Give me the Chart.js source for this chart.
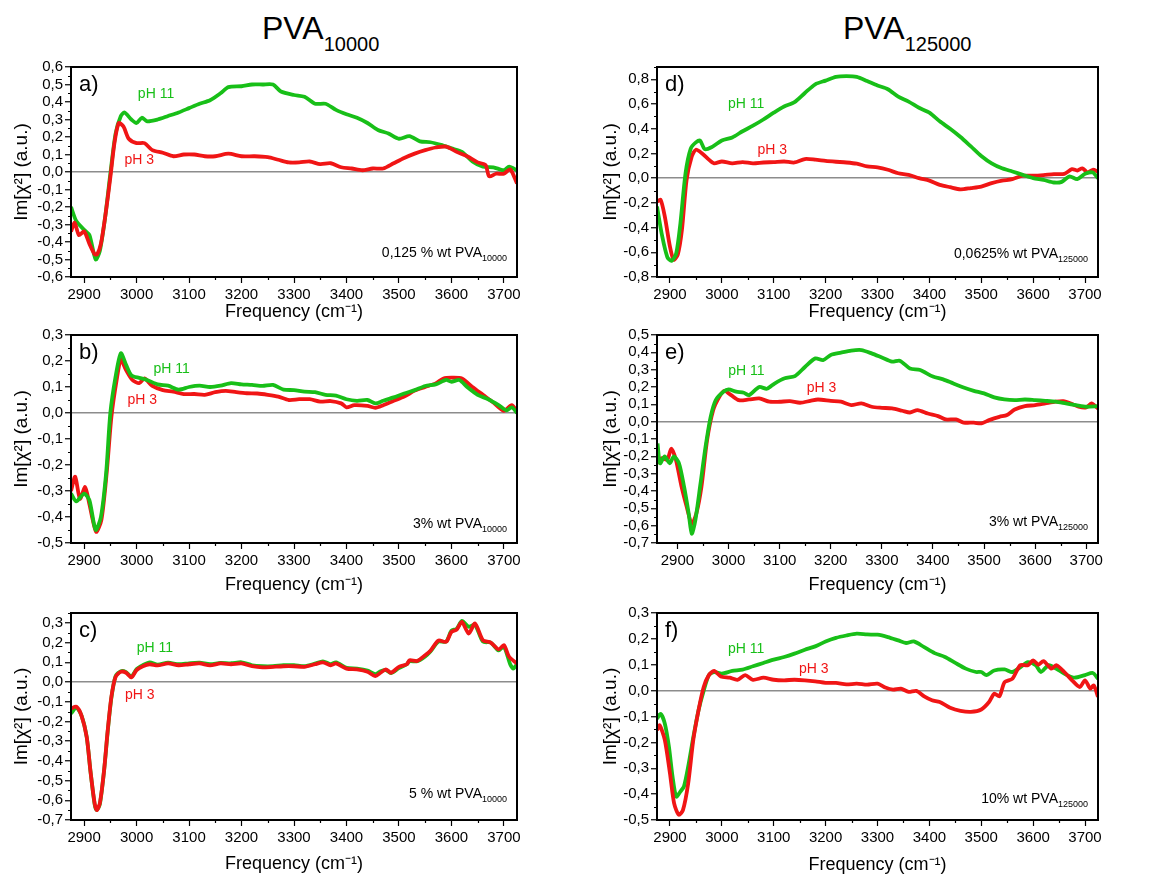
<!DOCTYPE html>
<html>
<head>
<meta charset="utf-8">
<script src="https://cdn.jsdelivr.net/npm/chart.js@4.4.1/dist/chart.umd.min.js"></script>
<style>
  body { margin: 0; background: #fff; width: 1165px; height: 875px; position: relative; overflow: hidden;
         font-family: 'Liberation Sans', Arial, sans-serif; }
  .title { position: absolute; top: 10px; font-size: 32px; color: #000; white-space: nowrap; }
  .title span { font-size: 20px; position: relative; top: 12px; }
</style>
</head>
<body>
<div class="title" style="left:262px">PVA<span>10000</span></div>
<div class="title" style="left:843px">PVA<span>125000</span></div>
<script>
const FONT = "'Liberation Sans', Arial, sans-serif";
Chart.defaults.font.family = FONT;
Chart.defaults.color = '#000';

const GREEN = '#18bf18';
const RED = '#f01515';

// ---- panel a: 0,125 % wt PVA10000 ----
const aPh11 = [[2875,-0.20],[2885,-0.28],[2900,-0.33],[2910,-0.36],[2922,-0.50],[2930,-0.45],[2940,-0.26],[2950,-0.01],
  [2960,0.22],[2970,0.32],[2977,0.34],[2990,0.30],[3000,0.28],[3010,0.31],[3020,0.29],[3040,0.30],[3060,0.32],[3080,0.34],
  [3100,0.365],[3120,0.39],[3140,0.41],[3160,0.45],[3175,0.485],[3200,0.49],[3220,0.50],[3240,0.50],[3260,0.50],[3275,0.46],
  [3300,0.44],[3320,0.43],[3340,0.39],[3360,0.39],[3380,0.355],[3400,0.33],[3420,0.31],[3440,0.28],[3460,0.24],[3480,0.22],
  [3500,0.19],[3520,0.205],[3540,0.175],[3560,0.17],[3580,0.155],[3600,0.135],[3620,0.115],[3640,0.06],[3660,0.03],
  [3680,0.027],[3700,0.01],[3710,0.03],[3725,0.01]];
const aPh3 = [[2875,-0.34],[2882,-0.29],[2890,-0.36],[2900,-0.34],[2910,-0.41],[2920,-0.47],[2925,-0.47],[2932,-0.41],
  [2940,-0.26],[2950,-0.03],[2958,0.17],[2966,0.28],[2975,0.26],[2985,0.19],[3000,0.165],[3015,0.165],[3030,0.125],
  [3050,0.11],[3070,0.09],[3090,0.10],[3110,0.10],[3130,0.09],[3150,0.09],[3175,0.105],[3200,0.09],[3225,0.09],[3250,0.085],
  [3270,0.07],[3290,0.055],[3310,0.055],[3330,0.06],[3350,0.045],[3370,0.05],[3390,0.027],[3410,0.02],[3430,0.01],
  [3450,0.02],[3470,0.02],[3490,0.05],[3510,0.08],[3530,0.105],[3550,0.125],[3570,0.14],[3590,0.145],[3610,0.115],
  [3630,0.09],[3650,0.055],[3665,0.04],[3672,-0.025],[3685,-0.01],[3700,-0.01],[3712,0.015],[3725,-0.065]];

// ---- panel b: 3% wt PVA10000 ----
const bPh11 = [[2875,-0.31],[2885,-0.34],[2900,-0.31],[2910,-0.335],[2922,-0.45],[2932,-0.40],[2942,-0.23],[2950,0.0],
  [2960,0.14],[2970,0.23],[2980,0.185],[2990,0.145],[3005,0.135],[3020,0.127],[3040,0.11],[3060,0.105],[3080,0.09],
  [3100,0.10],[3120,0.105],[3140,0.10],[3160,0.105],[3180,0.115],[3200,0.11],[3220,0.108],[3240,0.104],[3260,0.108],
  [3280,0.09],[3300,0.088],[3320,0.082],[3340,0.08],[3360,0.07],[3380,0.067],[3400,0.053],[3420,0.047],[3440,0.05],
  [3455,0.037],[3470,0.047],[3490,0.06],[3510,0.075],[3530,0.088],[3550,0.104],[3570,0.11],[3590,0.127],[3600,0.12],
  [3615,0.127],[3630,0.10],[3650,0.07],[3670,0.053],[3690,0.03],[3705,0.01],[3715,0.022],[3725,0.0]];
const bPh3 = [[2875,-0.30],[2883,-0.245],[2892,-0.33],[2902,-0.285],[2910,-0.35],[2923,-0.457],[2933,-0.41],[2943,-0.23],
  [2952,-0.015],[2962,0.127],[2970,0.205],[2980,0.165],[2992,0.127],[3005,0.115],[3015,0.133],[3030,0.104],[3050,0.088],
  [3070,0.082],[3090,0.073],[3110,0.073],[3130,0.07],[3150,0.08],[3170,0.085],[3190,0.08],[3210,0.076],[3230,0.075],
  [3250,0.07],[3270,0.063],[3290,0.05],[3310,0.053],[3330,0.053],[3350,0.044],[3370,0.046],[3390,0.037],[3400,0.022],
  [3415,0.03],[3440,0.027],[3455,0.02],[3470,0.03],[3490,0.047],[3510,0.063],[3530,0.086],[3550,0.10],[3570,0.114],
  [3585,0.133],[3600,0.136],[3620,0.133],[3640,0.10],[3660,0.07],[3680,0.04],[3700,0.008],[3715,0.03],[3725,0.005]];

// ---- panel c: 5 % wt PVA10000 ----
const cPh11 = [[2875,-0.16],[2885,-0.13],[2895,-0.17],[2905,-0.28],[2912,-0.45],[2920,-0.62],[2924,-0.65],[2930,-0.62],
  [2938,-0.45],[2945,-0.25],[2952,-0.08],[2960,0.03],[2970,0.055],[2980,0.05],[2990,0.027],[3000,0.065],[3012,0.085],
  [3025,0.10],[3040,0.088],[3060,0.098],[3080,0.09],[3100,0.095],[3120,0.098],[3140,0.09],[3160,0.097],[3180,0.095],
  [3200,0.10],[3220,0.085],[3240,0.08],[3260,0.08],[3280,0.085],[3300,0.085],[3320,0.08],[3340,0.093],[3355,0.105],
  [3370,0.09],[3380,0.10],[3400,0.072],[3420,0.068],[3440,0.058],[3455,0.04],[3465,0.055],[3475,0.06],[3485,0.045],
  [3500,0.07],[3515,0.09],[3520,0.105],[3535,0.105],[3550,0.13],[3560,0.155],[3575,0.205],[3590,0.205],[3600,0.26],
  [3610,0.27],[3620,0.31],[3633,0.28],[3645,0.29],[3660,0.205],[3675,0.2],[3690,0.16],[3700,0.18],[3712,0.09],
  [3718,0.068],[3725,0.09]];
const cPh3 = [[2875,-0.135],[2885,-0.125],[2895,-0.17],[2905,-0.28],[2912,-0.45],[2920,-0.615],[2924,-0.65],[2930,-0.615],
  [2938,-0.45],[2945,-0.245],[2952,-0.075],[2960,0.026],[2970,0.052],[2980,0.047],[2990,0.023],[3000,0.06],[3012,0.08],
  [3025,0.09],[3040,0.084],[3060,0.094],[3080,0.085],[3100,0.09],[3120,0.094],[3140,0.084],[3160,0.094],[3180,0.09],
  [3200,0.094],[3220,0.08],[3240,0.074],[3260,0.077],[3280,0.08],[3300,0.08],[3320,0.077],[3340,0.09],[3355,0.10],
  [3370,0.085],[3380,0.094],[3400,0.068],[3420,0.064],[3440,0.052],[3455,0.03],[3465,0.047],[3475,0.064],[3485,0.047],
  [3500,0.077],[3515,0.09],[3520,0.11],[3535,0.107],[3550,0.136],[3560,0.158],[3575,0.21],[3590,0.204],[3600,0.254],
  [3610,0.266],[3620,0.305],[3633,0.246],[3645,0.297],[3660,0.212],[3675,0.2],[3690,0.165],[3700,0.187],[3710,0.128],
  [3725,0.094]];

// ---- panel d: 0,0625% wt PVA125000 ----
const dPh11 = [[2875,-0.23],[2885,-0.47],[2895,-0.64],[2903,-0.67],[2912,-0.61],[2920,-0.37],[2930,0.04],[2940,0.24],
  [2950,0.29],[2958,0.305],[2967,0.235],[2980,0.25],[3000,0.305],[3020,0.33],[3040,0.38],[3060,0.425],[3080,0.475],
  [3100,0.53],[3120,0.58],[3140,0.615],[3160,0.69],[3180,0.76],[3200,0.79],[3220,0.82],[3240,0.826],[3260,0.82],
  [3280,0.786],[3300,0.75],[3320,0.72],[3340,0.66],[3360,0.62],[3380,0.57],[3400,0.53],[3420,0.46],[3440,0.40],
  [3460,0.333],[3480,0.257],[3500,0.18],[3520,0.12],[3540,0.08],[3560,0.054],[3580,0.027],[3600,0.0],[3620,-0.014],
  [3640,-0.035],[3655,-0.03],[3670,0.014],[3685,-0.008],[3700,0.035],[3715,0.046],[3725,0.0]];
const dPh3 = [[2875,-0.19],[2882,-0.176],[2890,-0.31],[2900,-0.555],[2907,-0.66],[2915,-0.62],[2923,-0.42],[2932,-0.014],
  [2942,0.176],[2950,0.23],[2962,0.20],[2975,0.15],[2985,0.12],[3000,0.135],[3020,0.12],[3040,0.13],[3060,0.12],
  [3080,0.127],[3100,0.13],[3120,0.135],[3140,0.127],[3160,0.155],[3180,0.15],[3200,0.14],[3220,0.133],[3240,0.127],
  [3260,0.117],[3280,0.095],[3300,0.087],[3320,0.068],[3340,0.04],[3360,0.027],[3380,0.0],[3400,-0.02],[3420,-0.054],
  [3440,-0.073],[3460,-0.09],[3480,-0.08],[3500,-0.068],[3520,-0.04],[3540,-0.02],[3560,-0.008],[3580,0.02],[3600,0.02],
  [3620,0.025],[3640,0.033],[3660,0.035],[3675,0.073],[3685,0.062],[3695,0.08],[3705,0.046],[3715,0.068],[3725,0.054]];

// ---- panel e: 3% wt PVA125000 ----
const ePh11 = [[2861,-0.126],[2866,-0.24],[2875,-0.20],[2885,-0.24],[2893,-0.20],[2903,-0.24],[2913,-0.375],[2922,-0.53],
  [2928,-0.646],[2935,-0.57],[2945,-0.36],[2955,-0.145],[2965,0.028],[2975,0.125],[2990,0.173],[3000,0.186],[3015,0.173],
  [3030,0.167],[3040,0.153],[3060,0.20],[3075,0.19],[3090,0.22],[3110,0.25],[3130,0.263],[3150,0.317],[3170,0.365],
  [3185,0.355],[3200,0.385],[3220,0.398],[3240,0.41],[3260,0.413],[3280,0.394],[3300,0.37],[3320,0.346],[3335,0.352],
  [3355,0.307],[3375,0.298],[3400,0.26],[3420,0.244],[3440,0.22],[3460,0.197],[3480,0.178],[3500,0.163],[3520,0.14],
  [3540,0.128],[3560,0.124],[3580,0.128],[3600,0.124],[3620,0.12],[3640,0.115],[3660,0.105],[3680,0.095],[3700,0.086],
  [3723,0.09]];
const ePh3 = [[2861,-0.24],[2870,-0.21],[2880,-0.22],[2888,-0.155],[2897,-0.22],[2908,-0.375],[2918,-0.49],[2928,-0.59],
  [2937,-0.53],[2947,-0.375],[2958,-0.107],[2970,0.067],[2982,0.144],[2992,0.178],[3005,0.153],[3020,0.124],[3040,0.128],
  [3060,0.134],[3080,0.115],[3100,0.115],[3120,0.118],[3140,0.109],[3160,0.12],[3175,0.128],[3200,0.12],[3220,0.115],
  [3240,0.096],[3260,0.105],[3280,0.086],[3300,0.08],[3320,0.076],[3340,0.063],[3355,0.053],[3370,0.067],[3390,0.047],
  [3410,0.032],[3425,0.013],[3445,0.013],[3460,-0.005],[3480,-0.006],[3495,-0.01],[3510,0.009],[3530,0.028],[3545,0.038],
  [3560,0.07],[3580,0.09],[3600,0.095],[3620,0.105],[3640,0.115],[3655,0.118],[3670,0.105],[3685,0.086],[3700,0.082],
  [3710,0.105],[3723,0.076]];

// ---- panel f: 10% wt PVA125000 ----
const fPh11 = [[2875,-0.108],[2882,-0.09],[2890,-0.127],[2898,-0.217],[2905,-0.333],[2912,-0.41],[2920,-0.39],[2927,-0.37],
  [2935,-0.295],[2945,-0.18],[2955,-0.076],[2965,0.0],[2975,0.06],[2985,0.072],[3000,0.066],[3020,0.076],[3040,0.081],
  [3060,0.094],[3080,0.107],[3100,0.12],[3120,0.13],[3140,0.143],[3160,0.158],[3180,0.171],[3200,0.19],[3220,0.204],
  [3240,0.213],[3260,0.22],[3280,0.217],[3300,0.216],[3320,0.207],[3340,0.194],[3355,0.184],[3370,0.19],[3390,0.168],
  [3410,0.145],[3430,0.13],[3450,0.107],[3470,0.085],[3490,0.072],[3500,0.072],[3510,0.06],[3525,0.078],[3545,0.082],
  [3560,0.072],[3575,0.09],[3590,0.11],[3605,0.098],[3615,0.072],[3630,0.098],[3650,0.078],[3665,0.06],[3680,0.05],
  [3700,0.06],[3715,0.068],[3725,0.046]];
const fPh3 = [[2875,-0.153],[2880,-0.134],[2890,-0.19],[2900,-0.32],[2908,-0.436],[2917,-0.48],[2925,-0.462],[2935,-0.36],
  [2945,-0.19],[2955,-0.076],[2965,0.014],[2975,0.06],[2985,0.076],[2998,0.055],[3015,0.05],[3030,0.042],[3045,0.06],
  [3060,0.042],[3080,0.05],[3100,0.042],[3120,0.04],[3140,0.042],[3160,0.04],[3180,0.036],[3200,0.03],[3220,0.03],
  [3240,0.024],[3260,0.027],[3280,0.023],[3300,0.027],[3315,0.012],[3330,0.004],[3345,0.008],[3360,-0.005],[3375,-0.001],
  [3390,-0.022],[3405,-0.037],[3420,-0.044],[3440,-0.066],[3460,-0.078],[3480,-0.082],[3500,-0.073],[3515,-0.044],
  [3525,-0.012],[3535,-0.022],[3545,0.033],[3560,0.046],[3575,0.098],[3590,0.098],[3600,0.117],[3610,0.10],[3620,0.114],
  [3635,0.085],[3645,0.098],[3660,0.072],[3675,0.04],[3690,0.014],[3700,0.04],[3710,0.008],[3717,0.02],[3725,-0.024]];

const panels = [
  { letter: 'a)', col: 0, top: 67, bottom: 277, gap: 35, noteDy: 20, xMin: 2875, xMax: 3725, yMin: -0.6, yMax: 0.6, yStep: 0.1,
    ph11: aPh11, ph3: aPh3, greenOnTop: false, note: ['0,125 % wt PVA', '10000'], at11: [3037, 0.445], at3: [3005, 0.067] },
  { letter: 'b)', col: 0, top: 335, bottom: 543, gap: 42, noteDy: 15, xMin: 2875, xMax: 3725, yMin: -0.5, yMax: 0.3, yStep: 0.1,
    ph11: bPh11, ph3: bPh3, greenOnTop: true, note: ['3% wt PVA', '10000'], at11: [3067, 0.17], at3: [3011, 0.049] },
  { letter: 'c)', col: 0, top: 613, bottom: 820, gap: 44, noteDy: 22, xMin: 2875, xMax: 3725, yMin: -0.7, yMax: 0.35, yStep: 0.1,
    ph11: cPh11, ph3: cPh3, greenOnTop: false, note: ['5 % wt PVA', '10000'], at11: [3035, 0.173], at3: [3006, -0.068] },
  { letter: 'd)', col: 1, top: 67, bottom: 277, gap: 35, noteDy: 19, xMin: 2875, xMax: 3725, yMin: -0.8, yMax: 0.9, yStep: 0.2,
    ph11: dPh11, ph3: dPh3, greenOnTop: true, note: ['0,0625% wt PVA', '125000'], at11: [3047, 0.596], at3: [3097, 0.228] },
  { letter: 'e)', col: 1, top: 335, bottom: 543, gap: 42, noteDy: 17, xMin: 2860, xMax: 3723, yMin: -0.7, yMax: 0.5, yStep: 0.1,
    ph11: ePh11, ph3: ePh3, greenOnTop: true, note: ['3% wt PVA', '125000'], at11: [3035, 0.294], at3: [3182, 0.196] },
  { letter: 'f)', col: 1, top: 613, bottom: 820, gap: 45, noteDy: 17, xMin: 2875, xMax: 3725, yMin: -0.5, yMax: 0.3, yStep: 0.1,
    ph11: fPh11, ph3: fPh3, greenOnTop: false, note: ['10% wt PVA', '125000'], at11: [3047, 0.161], at3: [3177, 0.084] },
];

// ticks at every multiple of step inside [min, max]
function stepTicks(min, max, step) {
  const out = [];
  const k0 = Math.ceil(min / step - 1e-6), k1 = Math.floor(max / step + 1e-6);
  for (let k = k0; k <= k1; k++) out.push({ value: Math.round(k * step * 1000) / 1000 });
  return out;
}
const isMajor = (v, step) => Math.abs(v / step - Math.round(v / step)) < 1e-6;

function decorPlugin(p) {
  return {
    id: 'decor',
    afterDraw(chart) {
      const { ctx, chartArea: a, scales: { x, y } } = chart;
      ctx.save();

      // short minor ticks (majors are drawn by the scales)
      ctx.strokeStyle = '#000';
      ctx.lineWidth = 1.2;
      ctx.beginPath();
      x.ticks.forEach(t => {
        if (isMajor(t.value, 100)) return;
        const px = Math.round(x.getPixelForValue(t.value)) + 0.5;
        ctx.moveTo(px, a.bottom); ctx.lineTo(px, a.bottom + 3);
      });
      y.ticks.forEach(t => {
        if (isMajor(t.value, p.yStep)) return;
        const py = Math.round(y.getPixelForValue(t.value)) + 0.5;
        ctx.moveTo(a.left, py); ctx.lineTo(a.left - 3, py);
      });
      ctx.stroke();

      ctx.lineWidth = 2;
      ctx.strokeRect(a.left, a.top, a.right - a.left, a.bottom - a.top);

      ctx.fillStyle = '#000';
      ctx.font = `22px ${FONT}`;
      ctx.textBaseline = 'middle';
      ctx.textAlign = 'left';
      ctx.fillText(p.letter, a.left + 8, a.top + 18);

      ctx.font = `14px ${FONT}`;
      ctx.textAlign = 'center';
      ctx.fillStyle = GREEN;
      ctx.fillText('pH 11', x.getPixelForValue(p.at11[0]), y.getPixelForValue(p.at11[1]));
      ctx.fillStyle = RED;
      ctx.fillText('pH 3', x.getPixelForValue(p.at3[0]), y.getPixelForValue(p.at3[1]));

      // bottom-right sample label with subscript
      ctx.fillStyle = '#000';
      ctx.textBaseline = 'alphabetic';
      ctx.textAlign = 'right';
      const rx = a.right - 10, by = a.bottom - p.noteDy;
      ctx.font = `9px ${FONT}`;
      const subW = ctx.measureText(p.note[1]).width;
      ctx.fillText(p.note[1], rx, by + 4);
      ctx.font = `14px ${FONT}`;
      ctx.fillText(p.note[0], rx - subW, by);
      ctx.restore();
    }
  };
}

panels.forEach(p => {
  const colLeft = p.col === 0 ? 0 : 580;
  const areaLeft = (p.col === 0 ? 71 : 657) - colLeft;
  const areaRight = (p.col === 0 ? 517 : 1098) - colLeft;
  const width = 560;
  const padTop = 12;
  const xH = p.gap + 14;

  const cv = document.createElement('canvas');
  cv.width = width;
  cv.height = padTop + (p.bottom - p.top) + xH;
  cv.style.cssText = `position:absolute;left:${colLeft}px;top:${p.top - padTop}px`;
  document.body.appendChild(cv);

  const line = (pts, color) => ({
    data: pts.map(([x, y]) => ({ x, y })),
    borderColor: color,
    borderWidth: 3.8,
    pointRadius: 0,
    tension: 0.25,
    fill: false,
  });
  const green = line(p.ph11, GREEN);
  const red = line(p.ph3, RED);

  new Chart(cv, {
    type: 'line',
    data: { datasets: p.greenOnTop ? [green, red] : [red, green] },
    options: {
      responsive: false,
      animation: false,
      events: [],
      layout: { padding: { top: padTop, right: width - areaRight, left: 0, bottom: 0 } },
      plugins: { legend: { display: false }, tooltip: { enabled: false } },
      scales: {
        x: {
          type: 'linear',
          min: p.xMin,
          max: p.xMax,
          afterFit: s => { s.height = xH; },
          afterBuildTicks: s => { s.ticks = stepTicks(p.xMin, p.xMax, 50); },
          ticks: {
            autoSkip: false,
            maxRotation: 0,
            padding: 3,
            font: { size: 15 },
            color: '#000',
            callback: v => (isMajor(v, 100) ? String(v) : ''),
          },
          grid: {
            drawOnChartArea: false, tickLength: 6, tickWidth: 1.2,
            tickColor: c => (c.tick && isMajor(c.tick.value, 100) ? '#000' : 'rgba(0,0,0,0)'),
          },
          border: { display: false },
          title: { display: true, text: 'Frequency (cm⁻¹)', font: { size: 18 }, color: '#000', padding: { top: 0, bottom: 3 } },
        },
        y: {
          min: p.yMin,
          max: p.yMax,
          afterFit: s => { s.width = areaLeft; },
          afterBuildTicks: s => { s.ticks = stepTicks(p.yMin, p.yMax, p.yStep / 2); },
          ticks: {
            autoSkip: false,
            padding: 2,
            font: { size: 15 },
            color: '#000',
            callback: v => (isMajor(v, p.yStep) ? v.toFixed(1).replace('.', ',') : ''),
          },
          grid: {
            drawOnChartArea: true,
            color: c => (c.tick && Math.abs(c.tick.value) < 1e-9 ? '#8c8c8c' : 'rgba(0,0,0,0)'),
            lineWidth: 1.5,
            tickLength: 6,
            tickWidth: 1.2,
            tickColor: c => (c.tick && isMajor(c.tick.value, p.yStep) ? '#000' : 'rgba(0,0,0,0)'),
          },
          border: { display: false },
          title: { display: true, text: 'Im[χ²] (a.u.)', font: { size: 19 }, color: '#000',
                   padding: { top: p.col === 0 ? 10 : 19, bottom: 0 } },
        }
      }
    },
    plugins: [decorPlugin(p)]
  });
});
</script>
</body>
</html>
